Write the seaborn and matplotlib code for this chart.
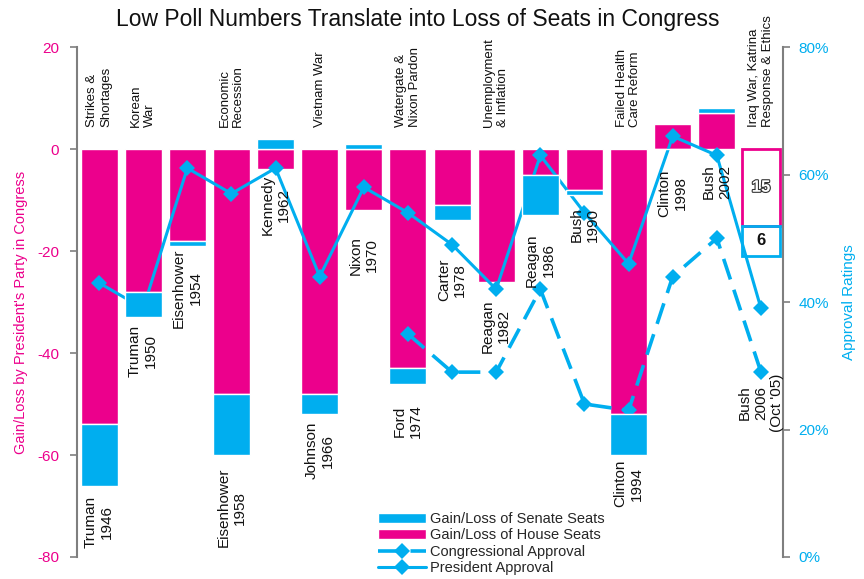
import matplotlib
matplotlib.use("Agg")
import matplotlib.pyplot as plt
import matplotlib.patheffects as pe
from matplotlib.patches import Patch
from matplotlib.lines import Line2D
from matplotlib.ticker import MultipleLocator, FuncFormatter
import numpy as np
import pandas as pd
import seaborn as sns

# --- data ---
presidents = ["Truman", "Truman", "Eisenhower", "Eisenhower", "Kennedy", "Johnson",
              "Nixon", "Ford", "Carter", "Reagan", "Reagan", "Bush", "Clinton",
              "Clinton", "Bush", "Bush"]
years = ["1946", "1950", "1954", "1958", "1962", "1966", "1970", "1974", "1978",
         "1982", "1986", "1990", "1994", "1998", "2002", "2006"]
house_seats = [-54, -28, -18, -48, -4, -48, -12, -43, -11, -26, -5, -8, -52, 5, 7, -15]
senate_seats = [-12, -5, -1, -12, 2, -4, 1, -3, -3, 0, -8, -1, -8, 0, 1, -6]
president_approval = [43, 39, 61, 57, 61, 44, 58, 54, 49, 42, 63, 54, 46, 66, 63, 39]

congress_years = ["1974", "1978", "1982", "1986", "1990", "1994", "1998", "2002", "2006"]
congress_approval = [35, 29, 29, 42, 24, 23, 44, 50, 29]

issue_years = ["1946", "1950", "1958", "1966", "1974", "1982", "1994", "2006"]
issue_labels = ["Strikes &\nShortages", "Korean\nWar", "Economic\nRecession", "Vietnam War",
                "Watergate &\nNixon Pardon", "Unemployment\n& Inflation",
                "Failed Health\nCare Reform", "Iraq War, Katrina\nResponse & Ethics"]
projected_year = "2006"
projected_note = "(Oct '05)"

# where the president/year captions hang (left-axis units)
label_top = [-68, -34.5, -19.5, -62.5, -5, -53.5, -17, -50, -21.5, -29.5, -16.5,
             -11.5, -61, -4, -3, -44]

PINK = "#EC008C"
BLUE = "#00AEEF"
GREY = "#7F7F7F"

sns.set_style("white")
plt.rcParams["font.family"] = ["Liberation Sans", "DejaVu Sans"]
plt.rcParams["axes.unicode_minus"] = False

df = pd.DataFrame({"year": years, "president": presidents, "house": house_seats,
                   "senate": senate_seats, "approval": president_approval})
df["pos"] = np.arange(len(df))
# excel style stacking: senate continues the house bar only when signs agree
same_sign = np.sign(df["house"]) == np.sign(df["senate"])
df["senate_base"] = np.where(same_sign, df["house"], 0)
proj = df["year"] == projected_year
hist = df[~proj]
last = df[proj]

cdf = pd.DataFrame({"year": congress_years, "approval": congress_approval})
cdf["pos"] = cdf["year"].map(years.index)

fig = plt.figure(figsize=(8.64, 5.79), dpi=100)
ax = fig.add_axes([0.0891, 0.038, 0.8172, 0.8808])
ax_pct = ax.twinx()
ax_top = ax.twinx()   # senate bars sit over the approval lines like in the original

bar_kw = dict(order=years, width=0.84, errorbar=None, saturation=1)
sns.barplot(data=hist, x="year", y="house", color=PINK, ax=ax, **bar_kw)
sns.barplot(data=last, x="year", y="house", color=PINK, fill=False, linewidth=2,
            ax=ax, **bar_kw)
sns.barplot(data=hist, x="year", y="senate", color=BLUE,
            bottom=hist["senate_base"].to_numpy(), ax=ax_top, **bar_kw)
sns.barplot(data=last, x="year", y="senate", color=BLUE, fill=False, linewidth=2,
            bottom=last["senate_base"].to_numpy(), ax=ax_top, **bar_kw)

sns.lineplot(data=df, x="pos", y="approval", color=BLUE, linewidth=2.2, marker="D",
             markersize=8, markeredgewidth=0, ax=ax_pct)
sns.lineplot(data=cdf, x="pos", y="approval", color=BLUE, linewidth=2.6, marker="D",
             markersize=8, markeredgewidth=0, linestyle=(0, (6, 3)), ax=ax_pct)

# axes styling
ax.set_xlim(-0.5, len(years) - 0.5)
for a in (ax, ax_pct, ax_top):
    a.set_xticks([])
    a.set_xlabel("")
    for s in a.spines.values():
        s.set_visible(False)

ax.set_ylim(-80, 20)
ax.yaxis.set_major_locator(MultipleLocator(20))
ax.spines["left"].set_visible(True)
ax.spines["left"].set_color(GREY)
ax.spines["left"].set_linewidth(1.5)
ax.tick_params(axis="y", left=True, length=5, width=1.2, color=GREY,
               labelcolor=PINK, labelsize=11, pad=8)
ax.set_ylabel("Gain/Loss by President's Party in Congress", color=PINK, fontsize=10.5)
ax.yaxis.set_label_coords(-0.07, 0.48)

ax_pct.set_ylim(0, 80)
ax_pct.yaxis.set_major_locator(MultipleLocator(20))
ax_pct.yaxis.set_major_formatter(FuncFormatter(lambda v, _: f"{v:.0f}%"))
ax_pct.spines["right"].set_visible(True)
ax_pct.spines["right"].set_color(GREY)
ax_pct.spines["right"].set_linewidth(1.5)
ax_pct.tick_params(axis="y", right=True, length=5, width=1.2, color=GREY,
                   labelcolor=BLUE, labelsize=11, pad=6)
ax_pct.set_ylabel("Approval Ratings", color=BLUE, fontsize=11, rotation=90)
ax_pct.yaxis.set_label_coords(1.083, 0.5)

ax_top.set_ylim(ax.get_ylim())
ax_top.set_yticks([])
ax_top.set_ylabel("")

# captions
for i, row in df.iterrows():
    txt = f"{row['president']}\n{row['year']}"
    if row["year"] == projected_year:
        txt += "\n" + projected_note
    ax_top.text(row["pos"], label_top[i], txt, rotation=90, ha="center", va="top",
                multialignment="center", fontsize=11, color="#111111")

for yr, txt in zip(issue_years, issue_labels):
    ax_top.text(years.index(yr), 4.3, txt, rotation=90, ha="center", va="bottom",
                multialignment="left", fontsize=9.5, color="#111111")

# numbers inside the projected boxes
p = last.iloc[0]
ax_top.text(p["pos"], p["house"] / 2, f"{abs(p['house'])}", ha="center", va="center",
            fontsize=12, fontweight="bold", color="white",
            path_effects=[pe.withStroke(linewidth=1.6, foreground="#333333")])
ax_top.text(p["pos"], p["house"] + p["senate"] / 2, f"{abs(p['senate'])}", ha="center",
            va="center", fontsize=12, fontweight="bold", color="#111111")

fig.text(0.484, 0.966, "Low Poll Numbers Translate into Loss of Seats in Congress",
         ha="center", va="center", fontsize=16.5, color="#111111",
         family=["Liberation Sans Narrow", "Liberation Sans", "DejaVu Sans"])

handles = [
    Patch(facecolor=BLUE, label="Gain/Loss of Senate Seats"),
    Patch(facecolor=PINK, label="Gain/Loss of House Seats"),
    Line2D([], [], color=BLUE, lw=2.6, ls=(0, (6, 3)), marker="D", markersize=8,
           mew=0, label="Congressional Approval"),
    Line2D([], [], color=BLUE, lw=2.2, marker="D", markersize=8, mew=0,
           label="President Approval"),
]
fig.legend(handles=handles, loc="upper left", bbox_to_anchor=(378 / 864, 1 - 512 / 579),
           frameon=False, fontsize=10.5, handlelength=3.3, handletextpad=0.3,
           labelspacing=0.17, borderpad=0, borderaxespad=0)

fig.savefig("out.png", dpi=100)
